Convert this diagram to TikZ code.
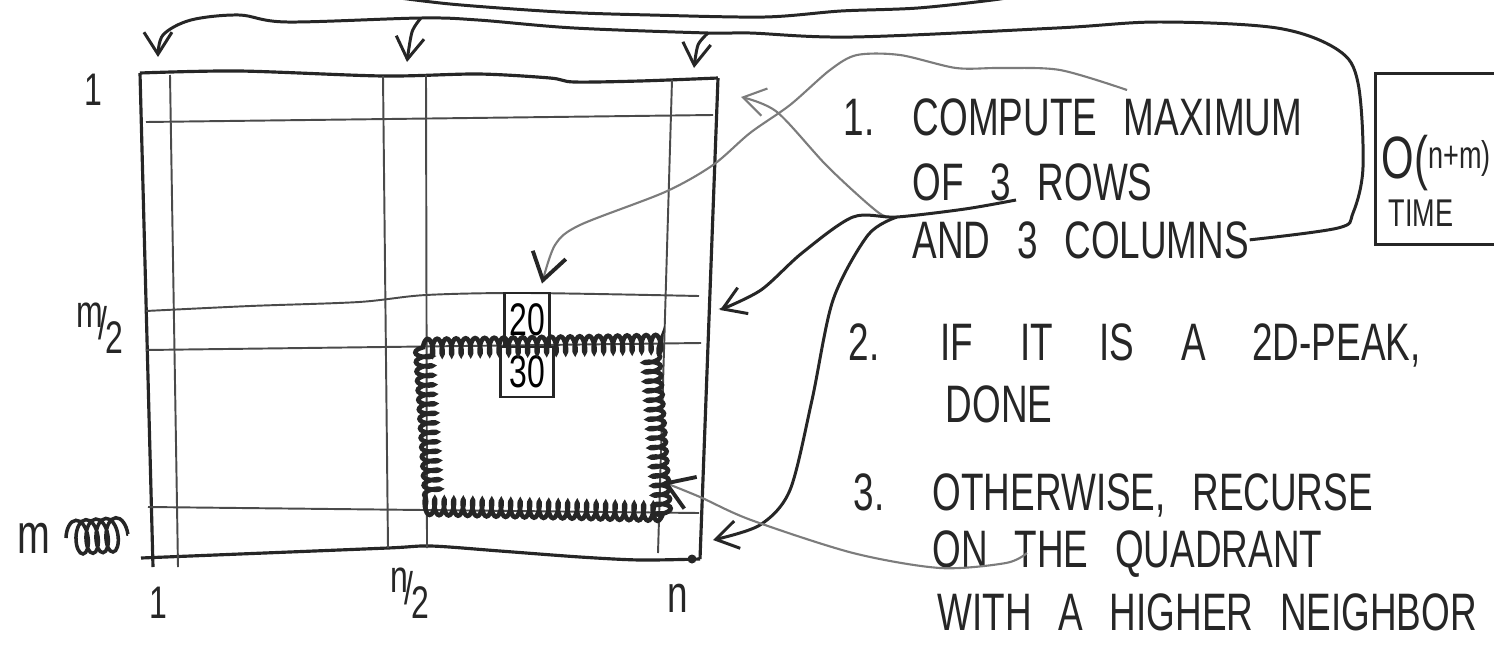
\documentclass[tikz,border=0pt]{standalone}
\usepackage{fontspec}
\usepackage{tikz}
\usetikzlibrary{
  arrows.meta,
  positioning,
  decorations.pathmorphing
}
\newfontfamily\hand[FakeStretch=0.7, WordSpace=2.6]{Liberation Sans}
\definecolor{inkBlack}{HTML}{262626}
\definecolor{inkGrid}{HTML}{4A4A4A}
\definecolor{inkPencil}{HTML}{7C7C7C}
\tikzset{
  handtext/.style={font=\hand\fontsize{15}{18}\selectfont, inner sep=0pt, anchor=base west, text=inkBlack},
  handlabel/.style={font=\hand\fontsize{13}{15}\selectfont, inner sep=0pt, text=inkBlack},
  gridline/.style={line width=0.55pt, inkGrid},
  gridframe/.style={line width=0.9pt, inkBlack},
  inkline/.style={line width=0.85pt, inkBlack},
  inkarrow/.style={inkline, -{Straight Barb[length=2.2mm, width=2.8mm]}},
  pencilarrow/.style={line width=0.6pt, inkPencil, -{Straight Barb[length=2.2mm, width=2.8mm]}},
  pencilink/.style={line width=0.6pt, inkPencil, -{Straight Barb[length=2.6mm, width=3.4mm, color=inkBlack, line width=1.1pt]}},
  cellbox/.style={draw=inkBlack, line width=0.8pt, inner sep=0pt, font=\hand\fontsize{13}{15}\selectfont},
  quadrant/.style={inkBlack, line width=1.3pt, decorate, decoration={coil, aspect=0.3, segment length=0.95mm, amplitude=0.8mm}},
  scribble/.style={inkBlack, line width=1pt, decorate, decoration={coil, aspect=0.5, segment length=1mm, amplitude=1.7mm}},
  costbox/.style={draw=inkBlack, line width=0.8pt, anchor=north west, minimum width=16mm, minimum height=17.1mm, inner sep=0pt}
}

\begin{document}
\begin{tikzpicture}[x=0.1mm, y=-0.1mm]
  \useasboundingbox[fill=white] (0,0) rectangle (1494,646);

  % the matrix
  \draw[gridframe] plot[smooth, tension=0.5] coordinates {(140,73) (239,71) (383,76) (478,74) (550,78) (574,82) (640,81) (718,78)};
  \draw[gridframe] (140,73) -- (153,567);
  \draw[gridframe] (718,78) -- (700,559);
  \draw[gridframe] plot[smooth, tension=0.5] coordinates {(141,558) (240,554) (388,548) (431,546) (500,551) (580,557) (640,560) (700,559)};
  \fill[inkBlack] (692,559) circle[radius=0.45mm];
  \foreach \a/\b in {{170,75}/{178,567}, {383,76}/{388,548}, {426,75}/{427,548}, {672,80}/{658,553},
                     {146,122}/{713,115}, {146,350}/{701,343}, {148,507}/{699,513}}
    \draw[gridline] (\a) -- (\b);
  \draw[gridline] plot[smooth] coordinates {(146,311) (250,306) (359,302) (426,295) (526,293) (699,296)};

  % row and column labels
  \node[handlabel] (lblRow1) at (93,90) {1};
  \node[handlabel] (lblRowM2) at (100,328) {\raisebox{1.2mm}{m}\kern-0.4mm/\kern-0.2mm\raisebox{-1.4mm}{2}};
  \node[handlabel, anchor=west, font=\hand\fontsize{16}{18}\selectfont] (lblRowM) at (17,538) {m};
  \draw[scribble] (66,538) -- (128,534);
  \node[handlabel] (lblCol1) at (158,603) {1};
  \node[handlabel] (lblColN2) at (410,593) {\raisebox{1.2mm}{n}\kern-0.4mm/\kern-0.2mm\raisebox{-1.4mm}{2}};
  \node[handlabel, font=\hand\fontsize{15}{17}\selectfont] (lblColN) at (678,598) {n};

  % the two cells and the chosen quadrant
  \node[cellbox, minimum width=4.5mm, minimum height=5.4mm] (cell20) at (527,320) {20};
  \node[cellbox, minimum width=5.3mm, minimum height=5.0mm] (cell30) at (527,372) {30};
  \draw[quadrant] (423,347) -- (651,343) -- (663,513) -- (433,507) -- cycle;

  % the steps
  \node[handtext] (num1) at (843,135) {1.};
  \node[handtext] (s1a) at (912,135) {COMPUTE MAXIMUM};
  \node[handtext] (s1b) at (912,200) {OF 3 ROWS};
  \node[handtext] (s1c) at (912,258) {AND 3 COLUMNS};
  \node[handtext] (num2) at (848,360) {2.};
  \node[handtext] (s2a) at (940,360) {IF\hspace{2mm} IT\hspace{2mm} IS\hspace{2mm} A\hspace{2mm} 2D-PEAK,};
  \node[handtext] (s2b) at (945,422) {DONE};
  \node[handtext] (num3) at (853,510) {3.};
  \node[handtext] (s3a) at (932,510) {OTHERWISE, RECURSE};
  \node[handtext] (s3b) at (932,567) {ON THE QUADRANT};
  \node[handtext] (s3c) at (937,630) {WITH A HIGHER NEIGHBOR};

  % cost
  \node[costbox] (cost) at (1374,72) {};
  \node[handtext, font=\hand\fontsize{17}{20}\selectfont] (costO) at (1381,178) {O(\raisebox{1mm}{\fontsize{11}{13}\selectfont n+m)}};
  \node[handtext, font=\hand\fontsize{11}{13}\selectfont] (costT) at (1388,226) {TIME};

  % ends of the connectors
  \coordinate (topL) at (158,57);
  \coordinate (topM) at (407,62);
  \coordinate (topR) at (694,68);
  \coordinate (brM) at (421,18);
  \coordinate (brR) at (708,33);
  \coordinate (row2tip) at (741,97);
  \coordinate (m2tip) at (720,310);
  \coordinate (mtip) at (713,540);
  \coordinate (hub) at (897,217);
  \coordinate (rowsEnd) at (1016,200);
  \coordinate (maxEnd) at (1127,90);
  \coordinate (theEnd) at (1027,553);
  \coordinate (quadTip) at (663,482);

  % connectors
  \draw[inkline] plot[smooth] coordinates {(370,-6) (450,4) (560,12) (650,15) (765,17) (841,11) (918,8) (1000,-1) (1030,-8)};
  \draw[inkarrow] plot[smooth, tension=0.55] coordinates {(s1c.east) (1338,228) (1353,213) (1363,167) (1358,83) (1338,50) (1277,28) (1159,22) (1057,28) (853,37) (750,33) (brR) (574,28) (478,20) (brM) (287,22) (239,15) (191,20) (163,35) (topL)};
  \draw[inkarrow] plot[smooth] coordinates {(brM) (412,32) (topM)};
  \draw[inkarrow] plot[smooth] coordinates {(brR) (698,45) (topR)};
  \draw[pencilink] plot[smooth] coordinates {(maxEnd) (1060,70) (1000,68) (956,68) (900,55) (857,55) (830,70) (790,105) (750,133) (713,165) (665,192) (580,225) (555,245) ([xshift=1.5mm, yshift=0.8mm]cell20.north)};
  \draw[pencilarrow] plot[smooth] coordinates {(hub) (879,213) (828,167) (777,112) (row2tip)};
  \draw[inkarrow] plot[smooth] coordinates {(rowsEnd) (965,209) (hub) (853,217) (802,253) (761,290) (m2tip)};
  \draw[inkarrow] plot[smooth] coordinates {(hub) (868,235) (833,300) (812,400) (790,490) (760,525) (mtip)};
  \draw[pencilink] plot[smooth] coordinates {(theEnd) (1006,563) (940,568) (853,553) (751,520) (700,497) (quadTip)};
\end{tikzpicture}
\end{document}
